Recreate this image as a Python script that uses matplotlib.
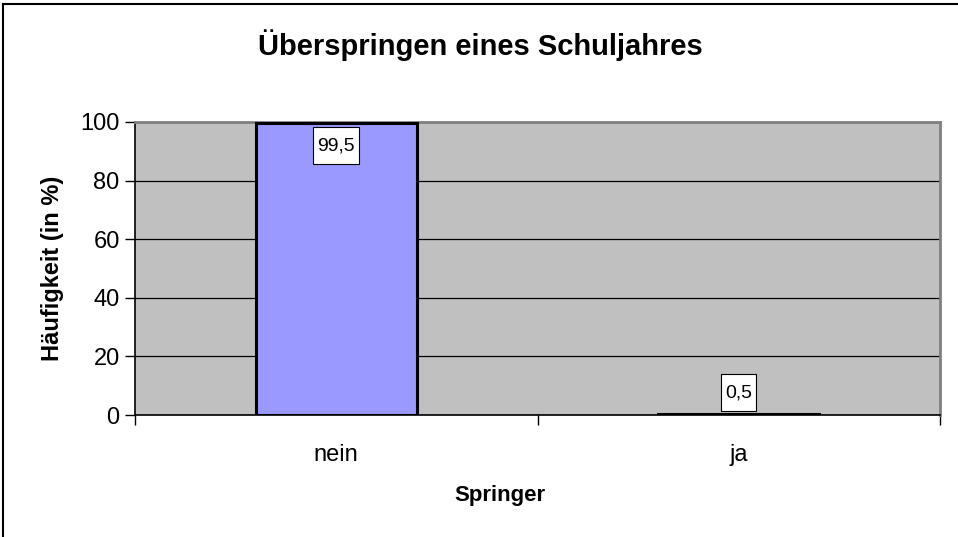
import matplotlib
matplotlib.use('Agg')
import matplotlib.pyplot as plt
from matplotlib.lines import Line2D
from matplotlib.path import Path

plt.rcParams['font.family'] = ['Liberation Sans', 'DejaVu Sans']

# data
categories = ['nein', 'ja']
values = [99.5, 0.5]
yticks = [0, 20, 40, 60, 80, 100]

fig = plt.figure(figsize=(9.58, 5.37), dpi=100)
ax = fig.add_axes([135/958, 1-415/537, 805/958, 293/537])
ax.set_facecolor('#C0C0C0')

x = list(range(len(categories)))
ax.bar(x, values, width=0.4, color='#9999FF', edgecolor='black', linewidth=2.2, zorder=3)

ax.set_xlim(-0.5, len(categories) - 0.5)
ax.set_ylim(0, 100)
ax.set_yticks(yticks)
ax.set_yticklabels([str(t) for t in yticks])
ax.yaxis.grid(True, color='black', linewidth=0.9, zorder=1)
ax.set_axisbelow(True)

# category labels at centers, tick marks between categories
ax.set_xticks(x)
ax.set_xticklabels(categories)
ax.set_xticks([i - 0.5 for i in range(len(categories) + 1)], minor=True)
ax.tick_params(axis='x', which='major', length=0, pad=21, labelsize=17)
ax.tick_params(axis='x', which='minor', length=7, width=1, direction='out')
ax.tick_params(axis='y', length=7, width=1, pad=4, labelsize=17)

for s in ['top', 'right']:
    ax.spines[s].set_color('#808080')
    ax.spines[s].set_linewidth(2)
for s in ['left', 'bottom']:
    ax.spines[s].set_color('black')
    ax.spines[s].set_linewidth(1.2)


# tall label box like excel: small side padding, fixed height
def label_box(x0, y0, width, height, mutation_size):
    padx = 4
    pady = max(0, (37 - height) / 2)
    x0, x1 = x0 - padx, x0 + width + padx
    y0, y1 = y0 - pady, y0 + height + pady
    return Path([(x0, y0), (x1, y0), (x1, y1), (x0, y1), (x0, y0)], closed=True)


# value labels
for xi, v in zip(x, values):
    txt = ('%.1f' % v).replace('.', ',')
    off = -16 if v > 90 else 15
    ax.annotate(txt, (xi, v), xytext=(0, off), textcoords='offset points',
                ha='center', va='center', fontsize=14, zorder=5,
                bbox=dict(boxstyle=label_box, fc='white', ec='black', lw=0.8))

fig.text(480/958, 1-45/537, 'Überspringen eines Schuljahres', ha='center', va='center',
         fontsize=21, fontweight='bold')
ax.set_ylabel('Häufigkeit (in %)', fontsize=17, fontweight='bold', labelpad=12)
fig.text(500/958, 1-495/537, 'Springer', ha='center', va='center',
         fontsize=16, fontweight='bold')

# chart border (top and left visible)
fig.add_artist(Line2D([2.5/958, 2.5/958], [0, 1-4/537], transform=fig.transFigure, color='black', lw=1.5))
fig.add_artist(Line2D([2.5/958, 1], [1-4/537, 1-4/537], transform=fig.transFigure, color='black', lw=1.5))

fig.savefig('out.png', dpi=100)
